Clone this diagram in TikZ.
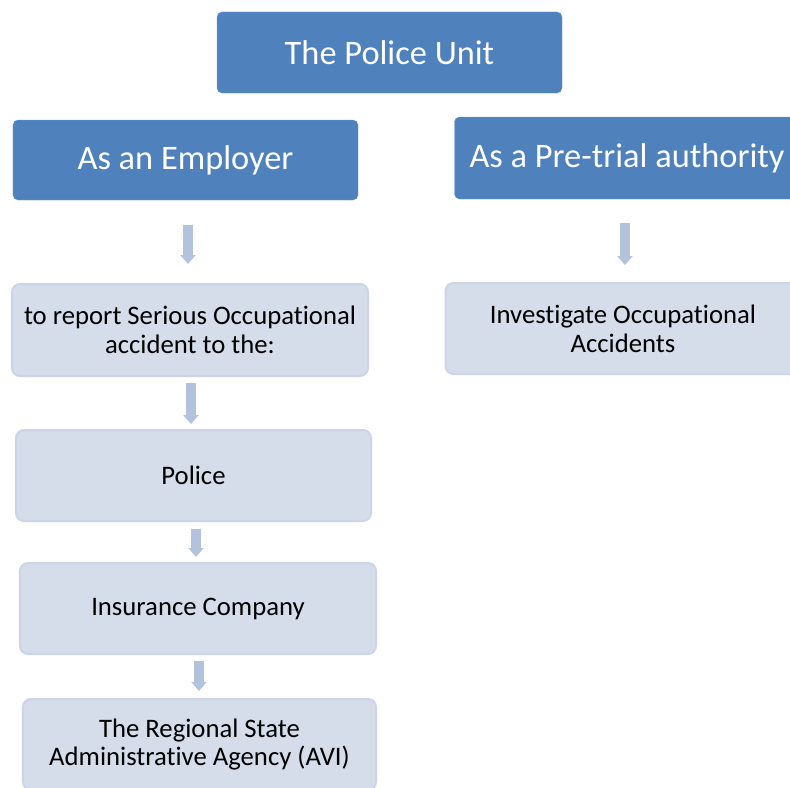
\documentclass[tikz,border=0pt]{standalone}
\usepackage{fontspec}
\setmainfont{Carlito}[Ligatures=NoCommon]
\usetikzlibrary{arrows.meta,positioning}
\definecolor{darkbox}{HTML}{4F81BD}
\definecolor{lightbox}{HTML}{D5DCEA}
\definecolor{lightedge}{HTML}{CCD5E7}
\definecolor{arrowfill}{HTML}{B3C2DD}
\tikzset{
  headbox/.style={draw=darkbox!80!white, fill=darkbox, rounded corners=5bp,
    text=white, font=\fontsize{34.5}{38}\selectfont, inner sep=0pt,
    minimum width=345bp, minimum height=81bp},
  itembox/.style={draw=lightedge, line width=2bp, fill=lightbox, rounded corners=8bp,
    font=\fontsize{26.8}{29}\selectfont, align=center, inner sep=0pt,
    minimum width=355bp, minimum height=91bp},
  flowarrow/.style={arrowfill, line width=10bp, -{Triangle[width=15bp,length=9bp]}}
}
\begin{document}
\begin{tikzpicture}[x=1bp,y=-1bp]
    \useasboundingbox[fill=white] (0,0) rectangle (790,788);
    \node[headbox] (unit) at (389.5,52.5) {The Police Unit};
    \node[headbox,minimum height=80bp] (emp) at (185.5,160) {As an Employer};
    \node[headbox,minimum height=82bp] (pre) at (627,158) {As a Pre-trial authority};
    \node[itembox,minimum width=356bp,minimum height=92bp] (rep) at (190,330)
        {to report Serious Occupational\\accident to the:};
    \node[itembox] (pol) at (193.5,475.5) {Police};
    \node[itembox,minimum width=356bp] (ins) at (198,608.5) {Insurance Company};
    \node[itembox,minimum width=353bp] (avi) at (199.5,744.5)
        {The Regional State\\Administrative Agency (AVI)};
    \node[itembox] (inv) at (623,328.5) {Investigate Occupational\\Accidents};
    % arrows
    \draw[flowarrow,shorten <=25bp,shorten >=19bp] ([xshift=2.5bp]emp.south) -- ([xshift=2.5bp]emp.south |- rep.north);
    \draw[flowarrow,shorten <=6bp,shorten >=5bp] ([xshift=1bp]rep.south) -- ([xshift=1bp]rep.south |- pol.north);
    \draw[flowarrow,shorten <=7bp,shorten >=5bp] ([xshift=2.5bp]pol.south) -- ([xshift=2.5bp]pol.south |- ins.north);
    \draw[flowarrow,shorten <=6bp,shorten >=7bp] ([xshift=1bp]ins.south) -- ([xshift=1bp]ins.south |- avi.north);
    \draw[flowarrow,shorten <=24bp,shorten >=17bp] ([xshift=-2bp]pre.south) -- ([xshift=-2bp]pre.south |- inv.north);
\end{tikzpicture}
\end{document}
